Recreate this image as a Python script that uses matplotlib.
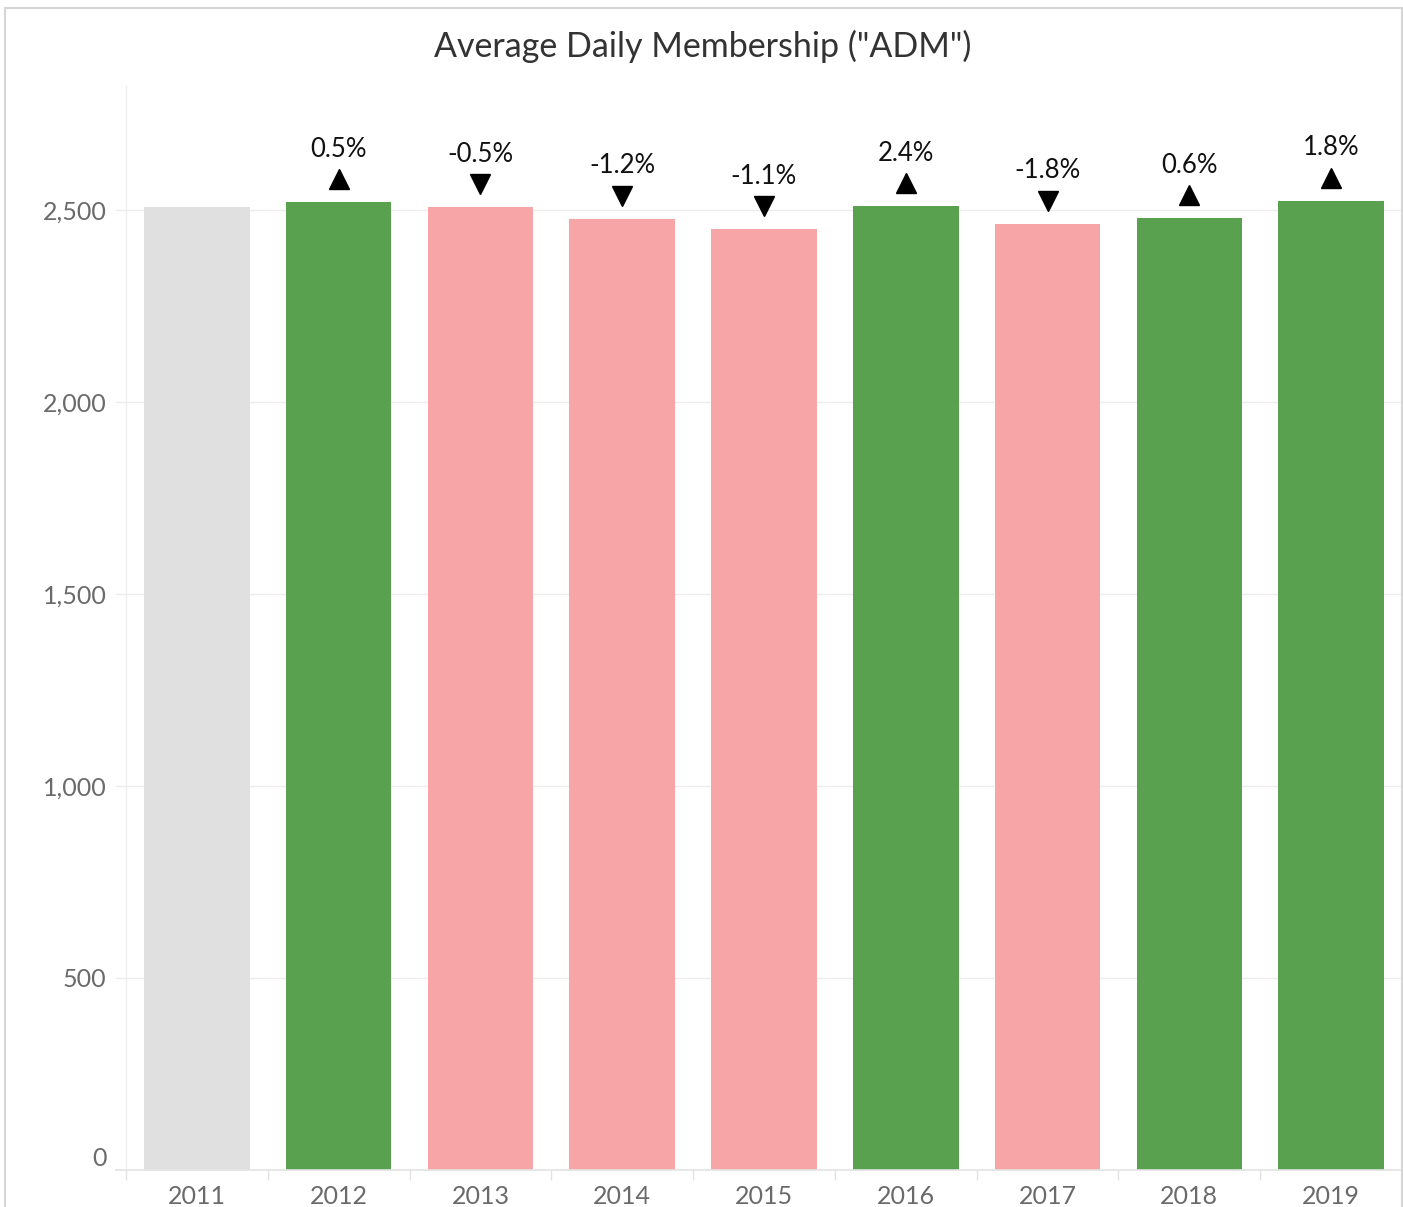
import matplotlib
matplotlib.use("Agg")
import matplotlib.pyplot as plt
from matplotlib.patches import Rectangle
import matplotlib.transforms as mtransforms

years = ["2011", "2012", "2013", "2014", "2015", "2016", "2017", "2018", "2019"]
adm = [2508, 2520, 2507, 2477, 2450, 2509, 2464, 2479, 2524]
pct_labels = ["", "0.5%", "-0.5%", "-1.2%", "-1.1%", "2.4%", "-1.8%", "0.6%", "1.8%"]
direction = ["none", "up", "down", "down", "down", "up", "down", "up", "up"]
yticks = [0, 500, 1000, 1500, 2000, 2500]
ytick_labels = ["0", "500", "1,000", "1,500", "2,000", "2,500"]

colors_map = {"none": "#e0e0e0", "up": "#59a14f", "down": "#f8a5a8"}

plt.rcParams['font.family'] = ['Lato', 'DejaVu Sans']

W, H = 1403, 1207
fig = plt.figure(figsize=(W / 100, H / 100), dpi=100)
ax = fig.add_axes([126 / W, 1 - 1170 / H, (1402 - 126) / W, (1170 - 85) / H])

x = list(range(len(years)))
ax.bar(x, adm, width=0.745, color=[colors_map[d] for d in direction], zorder=3)
ax.set_xlim(-0.5, len(years) - 0.5)
ax.set_ylim(0, 2825)

# grid lines
for t in yticks[1:]:
    ax.axhline(t, xmin=-0.008, xmax=1, color="#ececec", lw=1, zorder=1, clip_on=False)
ax.axhline(0, xmin=-0.008, xmax=1, color="#e3e3e3", lw=1.2, zorder=4, clip_on=False)

for s in ["top", "right", "bottom"]:
    ax.spines[s].set_visible(False)
ax.spines["left"].set_color("#f0f0f0")
ax.spines["left"].set_linewidth(1)

ax.set_yticks(yticks)
ax.set_yticklabels(ytick_labels)
ax.tick_params(axis="y", length=0, pad=14, labelsize=18, labelcolor="#6a6a6a")
ax.get_yticklabels()[0].set_verticalalignment("bottom")

ax.set_xticks(x)
ax.set_xticklabels(years)
ax.tick_params(axis="x", which="major", length=0, pad=11, labelsize=18, labelcolor="#6a6a6a")
ax.set_xticks([i - 0.5 for i in range(len(years) + 1)], minor=True)
ax.tick_params(axis="x", which="minor", length=7.5, width=1, color="#e3e3e3", direction="out")

mk_offset = ax.transData + mtransforms.ScaledTranslation(0, 16.5 / 72, fig.dpi_scale_trans)
for i, (v, lab, d) in enumerate(zip(adm, pct_labels, direction)):
    if d == "none":
        continue
    mk = "^" if d == "up" else "v"
    ax.plot([i], [v], marker=mk, markersize=15, color="black", linestyle="none",
            transform=mk_offset, zorder=5, clip_on=False)
    ax.annotate(lab, xy=(i, v), xytext=(0, 38), textcoords="offset points",
                ha="center", va="center", fontsize=18.5, color="#111111", zorder=5)

fig.text(703 / W, 1 - 46 / H, 'Average Daily Membership ("ADM")', ha="center", va="center",
         fontsize=24.5, color="#333333")

fig.patches.append(Rectangle((4.5 / W, -0.01), (1401.5 - 4.5) / W, 1 - 7.5 / H + 0.01,
                             transform=fig.transFigure, fill=False, edgecolor="#d6d6d6",
                             linewidth=1.5))

fig.savefig("out.png", dpi=100)
